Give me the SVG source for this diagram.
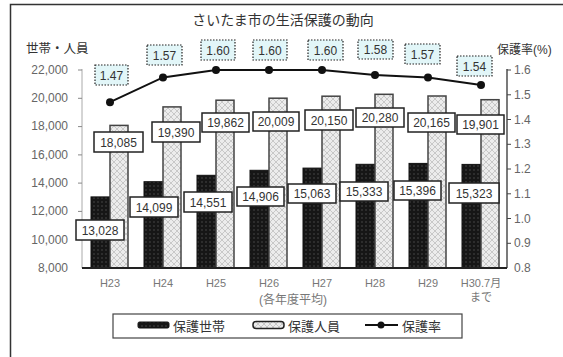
<svg xmlns="http://www.w3.org/2000/svg" width="563" height="357" viewBox="0 0 563 357">
<style>
text{font-family:"Liberation Sans","Noto Sans CJK JP",sans-serif;}
.ttl{font-size:14px;fill:#333;}
.ax{font-size:12px;fill:#666;}
.cat{font-size:11px;fill:#777;}
.lbl{font-size:12px;fill:#333;text-anchor:middle;}
.vb{fill:#fff;stroke:#222;stroke-width:1.5;}
.rb{fill:#e2f6f8;stroke:#222;stroke-width:1.2;stroke-dasharray:1.5 1.5;}
.bk{fill:url(#pk);stroke:#111;stroke-width:1;}
.ht{fill:url(#ph);stroke:#444;stroke-width:1.5;}
.leg{font-size:13px;fill:#333;}
</style>
<defs>
<pattern id="pk" width="4" height="4" patternUnits="userSpaceOnUse"><rect width="4" height="4" fill="#161616"/><circle cx="2" cy="2" r="0.8" fill="#4a4a4a"/></pattern>
<pattern id="ph" width="6" height="6" patternUnits="userSpaceOnUse"><rect width="6" height="6" fill="#ececec"/><path d="M0,0 L6,6 M6,0 L0,6" stroke="#b0b0b0" stroke-width="0.6"/></pattern>
</defs>
<rect width="563" height="357" fill="#fff"/>
<path d="M10.5,357 V4.5 H563" fill="none" stroke="#333" stroke-width="1.5"/>
<text class="ttl" x="283" y="25" text-anchor="middle">さいたま市の生活保護の動向</text>
<text class="ax" x="26" y="53" style="font-size:12.5px;fill:#333">世帯・人員</text>
<text class="ax" x="497" y="54" style="fill:#333">保護率(%)</text>

<g id="axes">
<line x1="82" y1="69" x2="82" y2="268" stroke="#aaa" stroke-width="1"/>
<line x1="507" y1="69" x2="507" y2="268" stroke="#222" stroke-width="1.2"/>
<g stroke="#888" stroke-width="1">
<line x1="78" y1="70" x2="82" y2="70"/><line x1="78" y1="98.3" x2="82" y2="98.3"/><line x1="78" y1="126.6" x2="82" y2="126.6"/><line x1="78" y1="154.9" x2="82" y2="154.9"/><line x1="78" y1="183.1" x2="82" y2="183.1"/><line x1="78" y1="211.4" x2="82" y2="211.4"/><line x1="78" y1="239.7" x2="82" y2="239.7"/>
</g>
<g stroke="#444" stroke-width="1">
<line x1="507" y1="70" x2="511" y2="70"/><line x1="507" y1="94.8" x2="511" y2="94.8"/><line x1="507" y1="119.5" x2="511" y2="119.5"/><line x1="507" y1="144.3" x2="511" y2="144.3"/><line x1="507" y1="169" x2="511" y2="169"/><line x1="507" y1="193.8" x2="511" y2="193.8"/><line x1="507" y1="218.5" x2="511" y2="218.5"/><line x1="507" y1="243.3" x2="511" y2="243.3"/>
</g>
<g class="ax" text-anchor="end">
<text x="68" y="74">22,000</text><text x="68" y="102">20,000</text><text x="68" y="130">18,000</text><text x="68" y="159">16,000</text><text x="68" y="187">14,000</text><text x="68" y="215">12,000</text><text x="68" y="244">10,000</text><text x="68" y="272">8,000</text>
</g>
<g class="ax">
<text x="514" y="74">1.6</text><text x="514" y="99">1.5</text><text x="514" y="124">1.4</text><text x="514" y="148">1.3</text><text x="514" y="173">1.2</text><text x="514" y="198">1.1</text><text x="514" y="223">1.0</text><text x="514" y="247">0.9</text><text x="514" y="272">0.8</text>
</g>
</g>

<g id="y-H23"><rect class="bk" x="91" y="196.9" width="19" height="71.1"/><rect class="ht" x="110" y="125.4" width="18" height="142.6"/><rect class="vb" x="94" y="132" width="49" height="20"/><text class="lbl" x="118.5" y="146.5">18,085</text><rect class="vb" x="76" y="220" width="48" height="20"/><text class="lbl" x="100" y="234.5">13,028</text><text class="cat" x="110" y="287" text-anchor="middle">H23</text></g>
<g id="y-H24"><rect class="bk" x="144" y="181.7" width="19" height="86.3"/><rect class="ht" x="163" y="106.9" width="18" height="161.1"/><rect class="vb" x="152" y="122" width="48" height="20"/><text class="lbl" x="176" y="136.5">19,390</text><rect class="vb" x="130" y="197" width="48" height="20"/><text class="lbl" x="154" y="211.5">14,099</text><text class="cat" x="163" y="287" text-anchor="middle">H24</text></g>
<g id="y-H25"><rect class="bk" x="197" y="175.3" width="19" height="92.7"/><rect class="ht" x="216" y="100.2" width="18" height="167.8"/><rect class="vb" x="202" y="113" width="47" height="19"/><text class="lbl" x="225.5" y="127">19,862</text><rect class="vb" x="184" y="192" width="48" height="20"/><text class="lbl" x="208" y="206.5">14,551</text><text class="cat" x="216" y="287" text-anchor="middle">H25</text></g>
<g id="y-H26"><rect class="bk" x="250" y="170.3" width="19" height="97.7"/><rect class="ht" x="269" y="98.2" width="18" height="169.8"/><rect class="vb" x="253" y="112" width="46" height="19"/><text class="lbl" x="276" y="126">20,009</text><rect class="vb" x="237" y="187" width="47" height="19"/><text class="lbl" x="260.5" y="201">14,906</text><text class="cat" x="269" y="287" text-anchor="middle">H26</text></g>
<g id="y-H27"><rect class="bk" x="303" y="168.1" width="19" height="99.9"/><rect class="ht" x="322" y="96.2" width="18" height="171.8"/><rect class="vb" x="305" y="110" width="48" height="20"/><text class="lbl" x="329" y="124.5">20,150</text><rect class="vb" x="288" y="184" width="48" height="19"/><text class="lbl" x="312" y="198">15,063</text><text class="cat" x="322" y="287" text-anchor="middle">H27</text></g>
<g id="y-H28"><rect class="bk" x="356" y="164.3" width="19" height="103.7"/><rect class="ht" x="375" y="94.3" width="18" height="173.7"/><rect class="vb" x="356" y="108" width="48" height="19"/><text class="lbl" x="380" y="122">20,280</text><rect class="vb" x="340" y="182" width="48" height="19"/><text class="lbl" x="364" y="196">15,333</text><text class="cat" x="375" y="287" text-anchor="middle">H28</text></g>
<g id="y-H29"><rect class="bk" x="409" y="163.4" width="19" height="104.6"/><rect class="ht" x="428" y="96" width="18" height="172"/><rect class="vb" x="408" y="113" width="47" height="19"/><text class="lbl" x="431.5" y="127">20,165</text><rect class="vb" x="394" y="181" width="47" height="19"/><text class="lbl" x="417.5" y="195">15,396</text><text class="cat" x="428" y="287" text-anchor="middle">H29</text></g>
<g id="y-H30"><rect class="bk" x="462" y="164.4" width="19" height="103.6"/><rect class="ht" x="481" y="99.7" width="18" height="168.3"/><rect class="vb" x="457" y="115" width="47" height="19"/><text class="lbl" x="480.5" y="129">19,901</text><rect class="vb" x="449" y="183" width="50" height="20"/><text class="lbl" x="474" y="197.5">15,323</text><text class="cat" x="481" y="287" text-anchor="middle">H30.7月</text><text class="cat" x="481" y="301" text-anchor="middle">まで</text></g>

<g id="baseline"><line x1="82" y1="268" x2="507" y2="268" stroke="#222" stroke-width="2"/></g>
<text class="cat" x="293" y="304" text-anchor="middle" style="font-size:12px">(各年度平均)</text>

<g id="connectors">
<polyline points="110,102.2 163,77.4 216,70 269,70 322,70 375,75 428,77.4 481,84.9" fill="none" stroke="#111" stroke-width="2"/>
<g fill="#111"><circle cx="110" cy="102.2" r="4"/><circle cx="163" cy="77.4" r="4"/><circle cx="216" cy="70" r="4"/><circle cx="269" cy="70" r="4"/><circle cx="322" cy="70" r="4"/><circle cx="375" cy="75" r="4"/><circle cx="428" cy="77.4" r="4"/><circle cx="481" cy="84.9" r="4"/></g>
</g>

<g id="rates">
<rect class="rb" x="95" y="65" width="33" height="20"/><text class="lbl" x="111.5" y="79.5">1.47</text>
<rect class="rb" x="147" y="45" width="35" height="20"/><text class="lbl" x="164.5" y="59.5">1.57</text>
<rect class="rb" x="201" y="40" width="34" height="20"/><text class="lbl" x="218" y="54.5">1.60</text>
<rect class="rb" x="253" y="40" width="34" height="20"/><text class="lbl" x="270" y="54.5">1.60</text>
<rect class="rb" x="308" y="40" width="35" height="20"/><text class="lbl" x="325.5" y="54.5">1.60</text>
<rect class="rb" x="358" y="40" width="35" height="19"/><text class="lbl" x="375.5" y="54">1.58</text>
<rect class="rb" x="405" y="44" width="35" height="20"/><text class="lbl" x="422.5" y="58.5">1.57</text>
<rect class="rb" x="457" y="56" width="35" height="20"/><text class="lbl" x="474.5" y="70.5">1.54</text>
</g>

<g id="legend">
<rect x="113" y="314" width="349" height="24" fill="#fff" stroke="#444" stroke-width="1.2"/>
<rect x="138" y="322" width="31" height="6" rx="1.5" fill="url(#pk)" stroke="#111"/>
<text class="leg" x="173" y="330.5">保護世帯</text>
<rect x="253" y="321.5" width="31" height="7" rx="3" fill="url(#ph)" stroke="#222" stroke-width="1.5"/>
<text class="leg" x="288" y="330.5">保護人員</text>
<line x1="365" y1="325" x2="398" y2="325" stroke="#111" stroke-width="2"/><circle cx="381" cy="325" r="3.5" fill="#111"/>
<text class="leg" x="402" y="330.5">保護率</text>
</g>
</svg>
